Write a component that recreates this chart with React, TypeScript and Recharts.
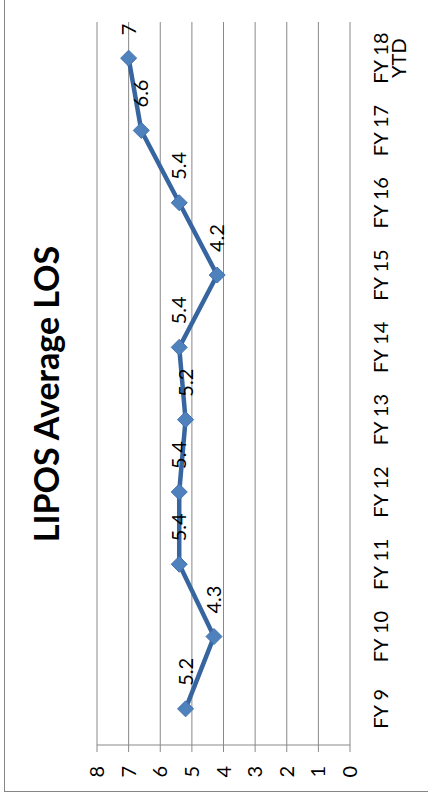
import React from "react";
import { LineChart, Line, XAxis, YAxis, CartesianGrid } from "recharts";

const categories = ["FY 9", "FY 10", "FY 11", "FY 12", "FY 13", "FY 14", "FY 15", "FY 16", "FY 17", "FY 18 YTD"];
const losValues = [5.2, 4.3, 5.4, 5.4, 5.2, 5.4, 4.2, 5.4, 6.6, 7];
const valueTicks = [0, 1, 2, 3, 4, 5, 6, 7, 8];
const boundaryTicks = [0, 1, 2, 3, 4, 5, 6, 7, 8, 9, 10];
const labelTicks = categories.map((_, i) => i + 0.5);
const title = "LIPOS Average LOS";

const data = categories.map((name, i) => ({ x: i + 0.5, name, los: losValues[i] }));

const W = 810;
const H = 432;
const FONT = "Lato, 'Open Sans', sans-serif";
const GRID = "#898989";

const CategoryTick = (props: any) => {
  const { x, y, payload } = props;
  const name = categories[Math.floor(payload.value)] || "";
  const words = name.split(" ");
  const lines = words.length > 2 ? [words.slice(0, 2).join(" "), words.slice(2).join(" ")] : [name];
  return (
    <text x={x} y={y} textAnchor="middle" fill="#000" fontSize={20} fontFamily={FONT}>
      {lines.map((l, i) => (
        <tspan key={i} x={x} dy={i === 0 ? "0.71em" : "0.9em"}>
          {l}
        </tspan>
      ))}
    </text>
  );
};

const Diamond = (props: any) => {
  const { cx, cy } = props;
  if (cx == null || cy == null) return null;
  const r = 8;
  return (
    <polygon
      points={`${cx},${cy - r} ${cx + r},${cy} ${cx},${cy + r} ${cx - r},${cy}`}
      fill="#4F81BD"
      stroke="#4172AE"
      strokeWidth={1}
    />
  );
};

const ValueLabel = (props: any) => {
  const { x, y, value } = props;
  return (
    <text x={x + 23} y={y} dy="0.36em" textAnchor="start" fill="#000" fontSize={20} fontFamily={FONT}>
      {value}
    </text>
  );
};

export default function App() {
  return (
    <div style={{ position: "absolute", left: 0, top: 0, width: 428, height: 803, overflow: "hidden", background: "#fff" }}>
      <div
        style={{
          position: "absolute",
          left: 0,
          top: 803,
          width: W,
          height: H,
          transform: "rotate(-90deg)",
          transformOrigin: "0 0",
        }}
      >
        <div
          style={{
            position: "absolute",
            left: 11,
            top: 4,
            width: 900,
            height: 500,
            border: "1px solid #868686",
            boxSizing: "border-box",
          }}
        />
        <svg width={W} height={H} style={{ position: "absolute", left: 0, top: 0 }}>
          <text x={409} y={59} textAnchor="middle" fontSize={34} fontWeight="bold" fontFamily={FONT} fill="#000">
            {title}
          </text>
        </svg>
        <div style={{ position: "absolute", left: 0, top: 0 }}>
          <LineChart width={W} height={H} data={data} margin={{ top: 97, right: 29, bottom: 22, left: 18 }}>
            <CartesianGrid vertical={false} stroke={GRID} strokeWidth={1} xAxisId="b" />
            <XAxis
              xAxisId="b"
              type="number"
              dataKey="x"
              domain={[0, 10]}
              ticks={boundaryTicks}
              interval={0}
              tick={false}
              tickSize={7}
              height={0}
              axisLine={{ stroke: GRID }}
              tickLine={{ stroke: GRID }}
            />
            <XAxis
              xAxisId="l"
              type="number"
              dataKey="x"
              domain={[0, 10]}
              ticks={labelTicks}
              interval={0}
              tick={<CategoryTick />}
              tickSize={0}
              tickMargin={24}
              height={60}
              axisLine={false}
              tickLine={false}
            />
            <YAxis
              type="number"
              domain={[0, 8]}
              ticks={valueTicks}
              interval={0}
              width={40}
              tickSize={7}
              tickMargin={14}
              axisLine={{ stroke: GRID }}
              tickLine={{ stroke: GRID }}
              tick={{ fill: "#000", fontSize: 20, fontFamily: FONT }}
            />
            <Line
              xAxisId="b"
              type="linear"
              dataKey="los"
              stroke="#37659F"
              strokeWidth={4.5}
              dot={<Diamond />}
              activeDot={false}
              label={<ValueLabel />}
              isAnimationActive={false}
            />
          </LineChart>
        </div>
      </div>
    </div>
  );
}
